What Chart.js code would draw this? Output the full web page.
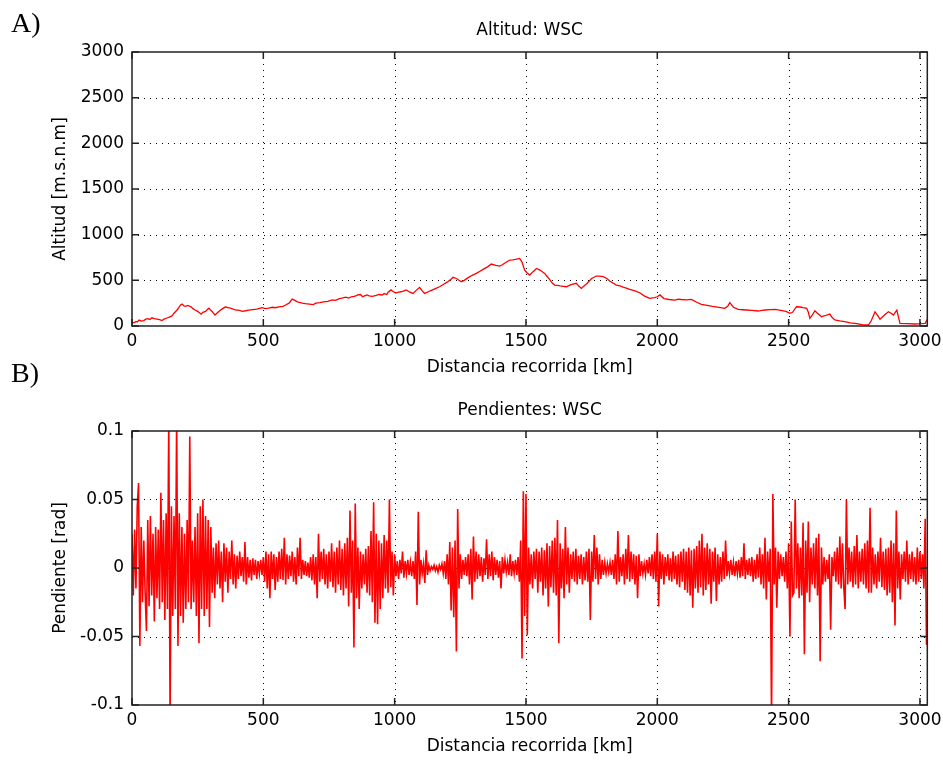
<!DOCTYPE html>
<html><head><meta charset="utf-8">
<script src="https://cdn.jsdelivr.net/npm/chart.js@4.4.0/dist/chart.umd.min.js"></script>
<style>
html,body{margin:0;padding:0;background:#fff;}
#wrap{position:relative;width:943px;height:761px;overflow:hidden;background:#fff;}
canvas{position:absolute;left:0;}
#c1{top:0;} #c2{top:380px;}
.lab{position:absolute;font-family:'Liberation Serif','Times New Roman',serif;font-size:28px;line-height:28px;color:#000;}
</style></head><body>
<div id="wrap">
<canvas id="c1" width="943" height="380"></canvas>
<canvas id="c2" width="943" height="381"></canvas>
<div class="lab" style="left:11px;top:9px">A)</div>
<div class="lab" style="left:11px;top:359px">B)</div>
</div>
<script>
// ---- tick values / labels ----
const distTicks = [0, 500, 1000, 1500, 2000, 2500, 3000];
const altTicks = [0, 500, 1000, 1500, 2000, 2500, 3000];
const slopeTicks = [-0.1, -0.05, 0, 0.05, 0.1];
const slopeTickLabels = ['-0.1', '-0.05', '0', '0.05', '0.1'];
const distMax = 3028;

// ---- A) altitude profile (km, m.s.n.m) ----
const altKm = [0,8,15,20,27,35,45,52,60,68,76,85,95,105,114,122,130,140,152,160,170,178,185,191,198,205,212,225,232,240,250,257,263,270,280,287,293,299,305,310,316,325,335,345,357,365,375,390,400,410,420,433,445,460,475,496,508,520,535,545,560,575,585,598,610,620,630,648,660,675,690,700,715,730,745,763,775,790,800,814,825,835,845,852,860,870,878,885,895,903,915,930,940,953,960,970,975,986,995,1005,1015,1025,1035,1044,1058,1070,1082,1095,1105,1114,1128,1140,1155,1171,1185,1200,1212,1222,1235,1254,1265,1280,1295,1311,1325,1340,1355,1368,1385,1400,1410,1420,1438,1450,1460,1476,1485,1495,1505,1514,1527,1540,1555,1571,1580,1590,1600,1609,1620,1630,1642,1654,1665,1675,1692,1700,1711,1720,1730,1750,1768,1780,1794,1808,1820,1832,1844,1858,1870,1882,1895,1915,1933,1950,1971,1990,2000,2010,2025,2045,2067,2080,2090,2110,2130,2150,2168,2190,2210,2235,2257,2268,2276,2290,2308,2325,2340,2360,2384,2398,2410,2430,2448,2470,2490,2505,2515,2530,2545,2555,2569,2575,2581,2590,2600,2610,2626,2640,2657,2665,2676,2695,2714,2735,2753,2780,2804,2815,2829,2840,2848,2865,2880,2890,2899,2912,2918,2924,2950,2981,3005,3020,3028];
const altM = [40,35,50,45,65,55,60,75,80,70,90,80,75,70,60,75,85,95,110,140,170,200,230,240,220,215,225,210,190,175,160,145,130,150,160,180,195,175,160,140,120,145,170,190,210,200,195,180,175,170,160,167,175,180,185,200,190,195,205,200,210,215,230,250,295,280,265,250,245,240,235,250,255,265,270,285,280,300,305,315,305,320,325,330,340,345,320,330,340,330,325,335,345,340,355,345,370,395,375,360,370,375,385,395,370,357,390,423,385,357,375,390,410,430,455,480,505,533,520,485,500,530,555,576,600,625,650,678,665,656,670,690,722,725,730,740,700,612,580,558,595,630,610,576,545,510,470,448,445,440,435,430,445,455,467,440,412,435,460,520,547,545,540,520,490,470,448,440,425,415,401,385,364,330,303,310,320,340,300,290,284,295,290,285,292,260,237,225,215,205,193,215,255,205,182,178,175,170,164,170,175,180,182,170,160,139,150,211,208,200,193,150,84,120,167,140,102,115,131,95,66,55,47,35,29,15,11,60,156,110,73,120,156,140,120,175,100,29,25,22,25,29,73];

// ---- B) slopes, one sample every 5 km from 0 km (values in 1e-3 rad) ----
const slopeStepKm = 5;
const slopeMilliRad = [
 25,-20,28,-15,45,62,-57,30,-25,20,-18,-46,35,-28,38,-20,25,-39,30,-22,
 28,-30,55,-25,35,-38,40,-30,110,-110,45,-35,38,-30,110,-57,40,-35,30,-40,
 25,-30,35,-25,96,-30,20,-25,30,-35,40,-55,45,-30,50,-35,38,-30,35,-43,
 30,-18,15,-22,18,-12,20,-15,12,-25,18,-10,15,-18,12,-8,20,-12,10,-15,
 9,-8,12,-6,8,-10,19,-12,8,-7,6,-9,7,-5,6,-8,5,-4,6,-5,
 8,-10,12,-15,10,-22,12,-8,10,-16,8,-10,12,-8,14,-9,22,-12,10,-8,
 9,-6,12,-10,8,-12,15,-6,22,-8,6,-5,5,-6,4,-7,8,-9,10,-12,
 8,-22,25,-10,12,-8,14,-12,10,-15,12,-10,18,-14,12,-18,15,-12,20,-16,
 14,-20,18,-15,22,-28,42,-18,20,-58,47,-22,15,-30,12,-15,10,-12,14,-18,
 16,-20,27,-25,48,-40,25,-41,20,-30,18,-22,24,-15,20,-18,50,-14,12,-20,
 10,-6,5,-8,6,-4,12,-7,5,-4,6,-5,4,-6,5,-8,12,-27,41,-12,
 6,-4,3,-11,13,-5,2,-2,1,-1,2,-2,1,-3,2,-1,3,-4,5,-8,
 10,-12,19,-31,15,-36,20,-61,43,-15,10,-8,6,-5,8,-6,10,-12,14,-23,
 23,-10,12,-8,10,-6,8,-10,7,-5,21,-8,10,-6,12,-9,8,-5,6,-7,
 5,-15,8,-4,6,-3,4,-5,10,-6,5,-4,6,-5,8,-10,20,-66,56,-35,
 54,-49,15,-12,10,-15,12,-8,14,-18,12,-10,15,-20,13,-15,18,-28,16,-14,
 20,-18,22,-20,35,-55,18,-15,14,-22,30,-12,15,-18,10,-8,12,-10,14,-12,
 9,-8,10,-12,8,-9,12,-10,14,-38,12,-10,24,-8,15,-12,10,-8,6,-5,
 4,-4,3,-3,4,-5,6,-8,10,-12,27,-10,8,-6,10,-12,14,-8,24,-10,
 12,-8,10,-12,9,-22,10,-6,5,-4,3,-5,6,-4,8,-6,10,-8,12,-10,
 25,-28,12,-8,10,-12,8,-6,10,-9,7,-10,12,-8,9,-12,10,-14,12,-10,
 14,-16,12,-18,15,-20,13,-29,14,-15,16,-18,20,-14,25,-20,15,-16,18,-12,
 14,-26,12,-10,15,-24,10,-12,8,-10,12,-8,20,-6,5,-4,6,-5,4,-6,
 5,-4,6,-7,8,-6,18,-8,6,-5,7,-6,8,-10,6,-8,10,-7,15,-12,
 10,-15,22,-23,12,-10,14,-110,54,-12,15,-29,12,-8,10,-6,8,-10,12,-15,
 18,-50,34,-20,-18,50,-15,18,-22,15,-20,33,-63,20,-18,34,-25,15,-12,18,
 -15,22,-20,25,-68,15,-12,8,-10,6,-8,10,-45,8,-6,12,-10,15,-12,23,
 -15,18,-14,-30,50,-12,15,-10,12,-14,16,-12,24,-15,12,-10,14,-12,18,-15,
 20,-18,44,-18,15,-12,10,-15,12,-10,22,-14,12,-16,14,-20,15,-18,20,-25,
 18,-42,42,-15,12,-23,10,-8,12,-10,20,-12,10,-8,12,-10,8,-12,15,-10,
 12,-8,10,-15,36,-56
];

// ---- styling ----
Chart.defaults.font.family = "'DejaVu Sans', sans-serif";
Chart.defaults.font.size = 17;
Chart.defaults.color = '#000';

const matlabFrame = {
  id: 'matlabFrame',
  beforeDatasetsDraw(chart) {
    const {ctx, chartArea: a, scales} = chart;
    ctx.save();
    ctx.strokeStyle = '#000';
    ctx.lineWidth = 1;
    ctx.setLineDash([1, 5]);
    ctx.beginPath();
    scales.x.ticks.forEach(t => {
      const px = Math.round(scales.x.getPixelForValue(t.value)) + 0.5;
      if (px > a.left + 2 && px < a.right - 2) { ctx.moveTo(px, a.top); ctx.lineTo(px, a.bottom); }
    });
    scales.y.ticks.forEach(t => {
      const py = Math.round(scales.y.getPixelForValue(t.value)) + 0.5;
      if (py > a.top + 2 && py < a.bottom - 2) { ctx.moveTo(a.left, py); ctx.lineTo(a.right, py); }
    });
    ctx.stroke();
    ctx.restore();
  },
  afterDatasetsDraw(chart) {
    const {ctx, chartArea: a, scales} = chart;
    const L = 7;
    ctx.save();
    ctx.strokeStyle = '#222';
    ctx.lineWidth = 1.5;
    ctx.setLineDash([]);
    ctx.strokeRect(a.left, a.top, a.right - a.left, a.bottom - a.top);
    ctx.beginPath();
    scales.x.ticks.forEach(t => {
      const px = scales.x.getPixelForValue(t.value);
      ctx.moveTo(px, a.bottom); ctx.lineTo(px, a.bottom - L);
      ctx.moveTo(px, a.top); ctx.lineTo(px, a.top + L);
    });
    scales.y.ticks.forEach(t => {
      const py = scales.y.getPixelForValue(t.value);
      ctx.moveTo(a.left, py); ctx.lineTo(a.left + L, py);
      ctx.moveTo(a.right, py); ctx.lineTo(a.right - L, py);
    });
    ctx.stroke();
    ctx.restore();
  }
};

function makeOptions(cfg) {
  return {
    responsive: false,
    animation: false,
    events: [],
    layout: { padding: { left: 0, right: 15.7, top: 0, bottom: 0 } },
    plugins: { legend: { display: false }, tooltip: { enabled: false }, title: { display: false } },
    scales: {
      x: {
        type: 'linear', position: 'bottom', min: 0, max: distMax,
        grid: { display: false, drawTicks: false }, border: { display: false },
        afterBuildTicks: s => { s.ticks = distTicks.map(v => ({ value: v })); },
        ticks: { padding: cfg.xTickPad, maxRotation: 0, autoSkip: false, callback: v => String(v) },
        title: { display: true, text: 'Distancia recorrida [km]', padding: { top: 0, bottom: cfg.xTitlePad } },
        afterFit: s => { s.height = cfg.xHeight; s.paddingLeft = 0; s.paddingRight = 0; }
      },
      xt: {
        type: 'linear', position: 'top', min: 0, max: distMax, display: true,
        grid: { display: false, drawTicks: false }, border: { display: false },
        ticks: { display: false },
        title: { display: true, text: cfg.title, padding: { top: cfg.titlePad, bottom: 0 } },
        afterFit: s => { s.height = cfg.topHeight; s.paddingLeft = 0; s.paddingRight = 0; }
      },
      y: {
        type: 'linear', position: 'left', min: cfg.yMin, max: cfg.yMax,
        grid: { display: false, drawTicks: false }, border: { display: false },
        afterBuildTicks: s => { s.ticks = cfg.yTicks.map(v => ({ value: v })); },
        ticks: { padding: 8, autoSkip: false, callback: cfg.yLabel },
        title: { display: true, text: cfg.yTitle, padding: { top: 50, bottom: 0 } },
        afterFit: s => { s.width = 132; s.paddingTop = 0; s.paddingBottom = 0; }
      }
    }
  };
}

new Chart(document.getElementById('c1'), {
  type: 'line',
  data: { datasets: [{
    data: altKm.map((k, i) => ({ x: k, y: altM[i] })),
    borderColor: '#ff0000', borderWidth: 1.3, pointRadius: 0, tension: 0
  }] },
  options: makeOptions({
    title: 'Altitud: WSC', titlePad: 20, topHeight: 52, xHeight: 54, xTickPad: 5, xTitlePad: 2,
    yMin: 0, yMax: 3000, yTicks: altTicks, yLabel: v => String(v), yTitle: 'Altitud [m.s.n.m]'
  }),
  plugins: [matlabFrame]
});

new Chart(document.getElementById('c2'), {
  type: 'line',
  data: { datasets: [{
    data: slopeMilliRad.map((m, i) => ({ x: i * slopeStepKm, y: m / 1000 })),
    borderColor: '#ff0000', borderWidth: 1.6, pointRadius: 0, tension: 0
  }] },
  options: makeOptions({
    title: 'Pendientes: WSC', titlePad: 20, topHeight: 51, xHeight: 56, xTickPad: 5, xTitlePad: 4,
    yMin: -0.1, yMax: 0.1, yTicks: slopeTicks,
    yLabel: v => { const i = slopeTicks.indexOf(v); return i >= 0 ? slopeTickLabels[i] : ''; },
    yTitle: 'Pendiente [rad]'
  }),
  plugins: [matlabFrame]
});
</script>
</body></html>
